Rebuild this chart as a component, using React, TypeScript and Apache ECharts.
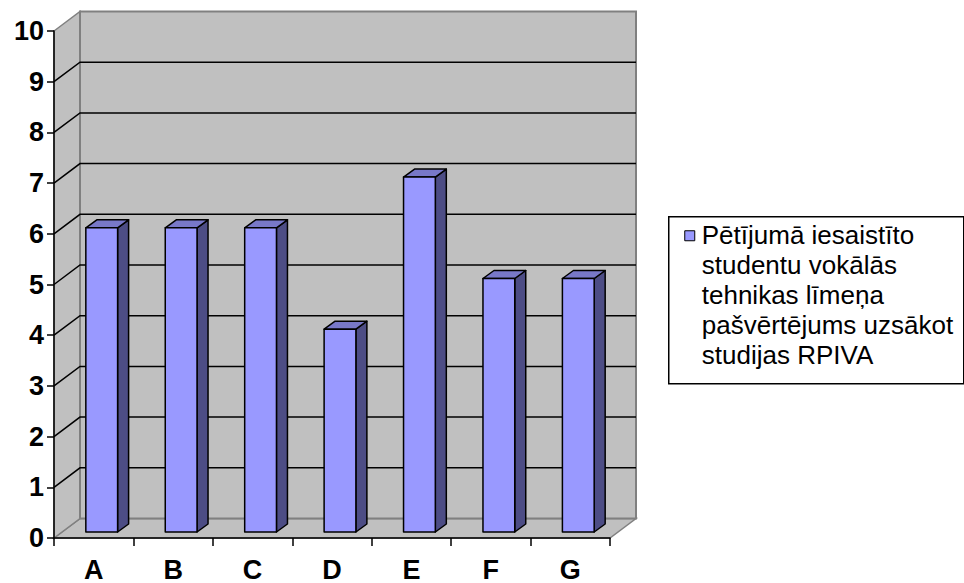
import React, { useEffect, useRef } from "react";
import * as echarts from "echarts";

// Categories, values and axis ticks
const categories = ["A", "B", "C", "D", "E", "F", "G"];
const values = [6, 6, 6, 4, 7, 5, 5];
const yTicks = [0, 1, 2, 3, 4, 5, 6, 7, 8, 9, 10];
const legendLines = [
  "Pētījumā iesaistīto",
  "studentu vokālās",
  "tehnikas līmeņa",
  "pašvērtējums uzsākot",
  "studijas RPIVA",
];
const seriesName = legendLines.join(" ");

const FONT = "'Liberation Sans', Arial, sans-serif";

// Depth of the pseudo-3D box (pixels)
const DEPTH_X = 26;
const DEPTH_Y = -19.5;
// Bar placement within the depth
const BAR_FRONT_X = 8;
const BAR_FRONT_Y = -6;
const BAR_DEPTH_X = 11;
const BAR_DEPTH_Y = -8;

const WALL_FILL = "#C0C0C0";
const WALL_EDGE = "#808080";
const BAR_FRONT = "#9999FF";
const BAR_TOP = "#7878C8";
const BAR_SIDE = "#4D4D85";

export default function App() {
  const ref = useRef<HTMLDivElement>(null);

  useEffect(() => {
    document.body.style.margin = "0";
    if (!ref.current) return;
    const chart = echarts.init(ref.current, undefined, { renderer: "svg" });

    const yMin = yTicks[0];
    const yMax = yTicks[yTicks.length - 1];

    const wallsRender = (_params: any, api: any) => {
      const bw = api.size([1, 0])[0];
      const n = categories.length;
      const xL = api.coord([0, yMin])[0] - bw / 2;
      const xR = api.coord([n - 1, yMin])[0] + bw / 2;
      const y0 = api.coord([0, yMin])[1];
      const yT = api.coord([0, yMax])[1];
      const children: any[] = [];
      // floor
      children.push({
        type: "polygon",
        shape: {
          points: [
            [xL, y0],
            [xL + DEPTH_X, y0 + DEPTH_Y],
            [xR + DEPTH_X, y0 + DEPTH_Y],
            [xR, y0],
          ],
        },
        style: { fill: WALL_FILL, stroke: WALL_EDGE, lineWidth: 1.5 },
      });
      // side wall
      children.push({
        type: "polygon",
        shape: {
          points: [
            [xL, yT],
            [xL + DEPTH_X, yT + DEPTH_Y],
            [xL + DEPTH_X, y0 + DEPTH_Y],
            [xL, y0],
          ],
        },
        style: { fill: WALL_FILL, stroke: WALL_EDGE, lineWidth: 1.5 },
      });
      // back wall
      children.push({
        type: "rect",
        shape: {
          x: xL + DEPTH_X,
          y: yT + DEPTH_Y,
          width: xR - xL,
          height: y0 - yT,
        },
        style: { fill: WALL_FILL, stroke: WALL_EDGE, lineWidth: 2 },
      });
      // gridlines on back and side walls
      yTicks.forEach((v) => {
        if (v === yMin || v === yMax) return;
        const y = api.coord([0, v])[1];
        children.push({
          type: "polyline",
          shape: {
            points: [
              [xL, y],
              [xL + DEPTH_X, y + DEPTH_Y],
              [xR + DEPTH_X, y + DEPTH_Y],
            ],
          },
          style: { fill: null, stroke: "#000", lineWidth: 1.5 },
        });
      });
      return { type: "group", children };
    };

    const barRender = (_params: any, api: any) => {
      const i = api.value(0);
      const v = api.value(1);
      const bw = api.size([1, 0])[0] * 0.4;
      const base = api.coord([i, yMin]);
      const top = api.coord([i, v]);
      const x0 = base[0] - bw / 2 + BAR_FRONT_X;
      const x1 = x0 + bw;
      const yb = base[1] + BAR_FRONT_Y;
      const yt = top[1] + BAR_FRONT_Y;
      const edge = { stroke: "#000", lineWidth: 1.5, lineJoin: "round" };
      return {
        type: "group",
        children: [
          {
            type: "polygon",
            shape: {
              points: [
                [x1, yt],
                [x1 + BAR_DEPTH_X, yt + BAR_DEPTH_Y],
                [x1 + BAR_DEPTH_X, yb + BAR_DEPTH_Y],
                [x1, yb],
              ],
            },
            style: { fill: BAR_SIDE, ...edge },
          },
          {
            type: "polygon",
            shape: {
              points: [
                [x0, yt],
                [x0 + BAR_DEPTH_X, yt + BAR_DEPTH_Y],
                [x1 + BAR_DEPTH_X, yt + BAR_DEPTH_Y],
                [x1, yt],
              ],
            },
            style: { fill: BAR_TOP, ...edge },
          },
          {
            type: "rect",
            shape: { x: x0, y: yt, width: bw, height: yb - yt },
            style: { fill: BAR_FRONT, ...edge },
          },
        ],
      };
    };

    chart.setOption({
      animation: false,
      backgroundColor: "#ffffff",
      grid: { left: 54, top: 31, right: 354, bottom: 43, containLabel: false },
      xAxis: {
        type: "category",
        data: categories,
        z: 10,
        boundaryGap: true,
        axisLine: { show: true, lineStyle: { color: "#000", width: 1.5 } },
        axisTick: { show: true, length: 8, inside: false, lineStyle: { color: "#000", width: 1.5 } },
        axisLabel: {
          color: "#000",
          fontFamily: FONT,
          fontWeight: "bold",
          fontSize: 27,
          lineHeight: 27,
          margin: 18,
        },
        splitLine: { show: false },
      },
      yAxis: {
        type: "value",
        min: yMin,
        max: yMax,
        interval: 1,
        z: 10,
        axisLine: { show: true, lineStyle: { color: "#000", width: 1.5 } },
        axisTick: { show: true, length: 7, inside: false, lineStyle: { color: "#000", width: 1.5 } },
        axisLabel: {
          color: "#000",
          fontFamily: FONT,
          fontWeight: "bold",
          fontSize: 27,
          margin: 10,
        },
        splitLine: { show: false },
      },
      series: [
        {
          type: "custom",
          name: "walls",
          silent: true,
          clip: false,
          z: 1,
          renderItem: wallsRender,
          data: [[0, 0]],
        },
        {
          type: "custom",
          name: seriesName,
          clip: false,
          z: 3,
          renderItem: barRender,
          data: values.map((v, i) => [i, v]),
        },
      ],
      graphic: [
        {
          type: "group",
          left: 668,
          top: 216,
          children: [
            {
              type: "rect",
              shape: { x: 0, y: 0, width: 295, height: 167 },
              style: { fill: "#fff", stroke: "#000", lineWidth: 1.5 },
            },
            {
              type: "rect",
              shape: { x: 16, y: 14, width: 10, height: 10 },
              style: { fill: BAR_FRONT, stroke: "#000", lineWidth: 1 },
            },
            {
              type: "text",
              x: 33,
              y: 3,
              style: {
                text: legendLines.join("\n"),
                fontFamily: FONT,
                fontSize: 26,
                lineHeight: 30,
                fill: "#000",
                textVerticalAlign: "top",
              },
            },
          ],
        },
      ],
    });

    return () => chart.dispose();
  }, []);

  return <div ref={ref} style={{ width: 964, height: 583 }} />;
}
